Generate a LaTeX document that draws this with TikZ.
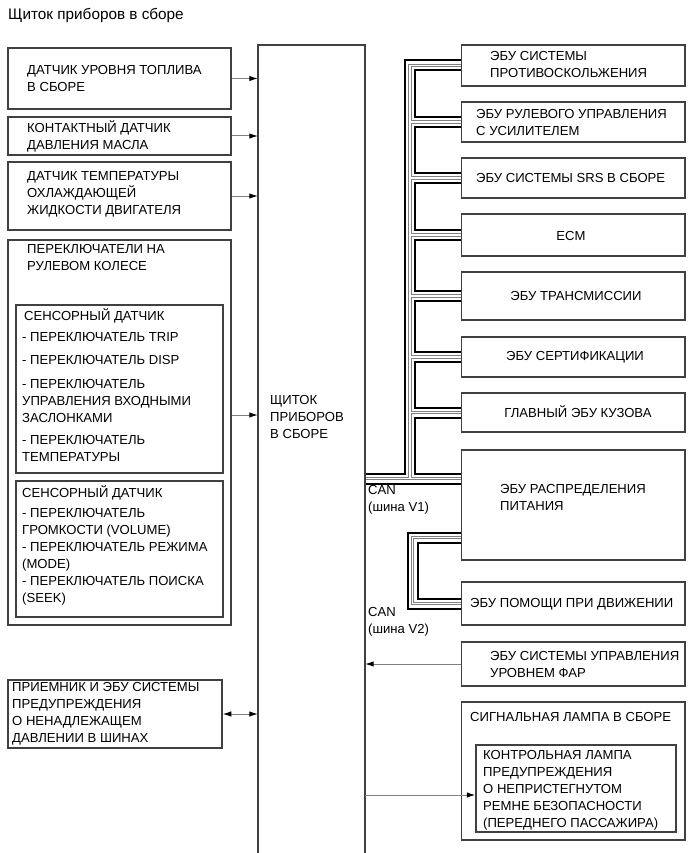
\documentclass[tikz,border=0pt]{standalone}
\usepackage{fontspec}
\setmainfont{Liberation Sans}
\usetikzlibrary{arrows.meta,fit,backgrounds}
\begin{document}
\begin{tikzpicture}[x=1pt,y=-1pt,
  box/.style={draw=black!75, line width=1.5pt, inner sep=0pt},
  frame/.style={inner sep=0pt},
  txt/.style={inner sep=0pt, align=left, font=\fontsize{13.1}{17}\selectfont, text=black},
  ctxt/.style={inner sep=0pt, align=center, font=\fontsize{13.1}{17}\selectfont, text=black},
  arr/.style={draw=black!50, line width=1pt, -{Latex[length=8.5pt,width=5.5pt,color=black]}},
  darr/.style={draw=black!50, line width=1pt, {Latex[length=8.5pt,width=5.5pt,color=black]}-{Latex[length=8.5pt,width=5.5pt,color=black]}},
  band/.style={draw=black, line width=2pt, double=white, double distance=8pt},
  wire/.style={draw=black!50, line width=0.7pt, double=white, double distance=1.9pt},
]
\useasboundingbox (0,0) rectangle (690,853);

% title
\node[inner sep=0pt, anchor=west, font=\fontsize{15.3}{17}\selectfont] (title) at (8,15) {Щиток приборов в сборе};

% main cluster
\node[frame, fit={(258,45) (365,853)}] (main) {};
\draw[draw=black!75, line width=1.5pt] (main.south west) -- (main.north west) -- (main.north east) -- (main.south east);
\node[txt, anchor=west] (maint) at (270,417) {ЩИТОК\\ПРИБОРОВ\\В СБОРЕ};

% left boxes
\node[box, fit={(8,48) (231,109)}] (l1) {};
\node[txt, anchor=west] (l1t) at (27,78.5) {ДАТЧИК УРОВНЯ ТОПЛИВА\\В СБОРЕ};
\node[box, fit={(8,117) (231,155)}] (l2) {};
\node[txt, anchor=west] (l2t) at (27,136.5) {КОНТАКТНЫЙ ДАТЧИК\\ДАВЛЕНИЯ МАСЛА};
\node[box, fit={(8,162) (231,230)}] (l3) {};
\node[txt, anchor=west] (l3t) at (27,194.5) {ДАТЧИК ТЕМПЕРАТУРЫ\\ОХЛАЖДАЮЩЕЙ\\ЖИДКОСТИ ДВИГАТЕЛЯ};
\node[box, fit={(8,240) (231,625)}] (l4) {};
\node[txt, anchor=west] (l4t) at (27,257) {ПЕРЕКЛЮЧАТЕЛИ НА\\РУЛЕВОМ КОЛЕСЕ};
\node[box, fit={(16,305) (223,473)}] (s1) {};
\node[txt, anchor=west] (s1a) at (24,316) {СЕНСОРНЫЙ ДАТЧИК};
\node[txt, anchor=west] (s1b) at (22,337) {- ПЕРЕКЛЮЧАТЕЛЬ TRIP};
\node[txt, anchor=west] (s1c) at (22,360) {- ПЕРЕКЛЮЧАТЕЛЬ DISP};
\node[txt, anchor=west] (s1d) at (22,401) {- ПЕРЕКЛЮЧАТЕЛЬ\\УПРАВЛЕНИЯ ВХОДНЫМИ\\ЗАСЛОНКАМИ};
\node[txt, anchor=west] (s1e) at (22,448.5) {- ПЕРЕКЛЮЧАТЕЛЬ\\ТЕМПЕРАТУРЫ};
\node[box, fit={(16,481) (223,617)}] (s2) {};
\node[txt, anchor=west] (s2a) at (22,493) {СЕНСОРНЫЙ ДАТЧИК};
\node[txt, anchor=west] (s2b) at (22,522.5) {- ПЕРЕКЛЮЧАТЕЛЬ\\ГРОМКОСТИ (VOLUME)};
\node[txt, anchor=west] (s2c) at (22,556.5) {- ПЕРЕКЛЮЧАТЕЛЬ РЕЖИМА\\(MODE)};
\node[txt, anchor=west] (s2d) at (22,590.5) {- ПЕРЕКЛЮЧАТЕЛЬ ПОИСКА\\(SEEK)};
\node[box, fit={(8,680) (222,748)}] (l5) {};
\node[txt, anchor=west] (l5t) at (12,714) {ПРИЕМНИК И ЭБУ СИСТЕМЫ\\ПРЕДУПРЕЖДЕНИЯ\\О НЕНАДЛЕЖАЩЕМ\\ДАВЛЕНИИ В ШИНАХ};

% right boxes
\node[box, fit={(461.5,45) (685,86)}] (r1) {};
\node[txt, anchor=west] (r1t) at (490,64.5) {ЭБУ СИСТЕМЫ\\ПРОТИВОСКОЛЬЖЕНИЯ};
\node[box, fit={(461.5,102) (685,142)}] (r2) {};
\node[txt, anchor=west] (r2t) at (476,122.5) {ЭБУ РУЛЕВОГО УПРАВЛЕНИЯ\\С УСИЛИТЕЛЕМ};
\node[box, fit={(461.5,158) (685,198)}] (r3) {};
\node[txt, anchor=west] (r3t) at (476,178) {ЭБУ СИСТЕМЫ SRS В СБОРЕ};
\node[box, fit={(461.5,214) (685,256)}] (r4) {};
\node[ctxt] (r4t) at (571,236) {ECM};
\node[box, fit={(461.5,272) (685,320)}] (r5) {};
\node[ctxt] (r5t) at (576,296) {ЭБУ ТРАНСМИССИИ};
\node[box, fit={(461.5,337) (685,377)}] (r6) {};
\node[ctxt] (r6t) at (575,357) {ЭБУ СЕРТИФИКАЦИИ};
\node[box, fit={(461.5,393) (685,432)}] (r7) {};
\node[ctxt] (r7t) at (578,412) {ГЛАВНЫЙ ЭБУ КУЗОВА};
\node[box, fit={(461.5,450) (685,560)}] (r8) {};
\node[txt, anchor=west] (r8t) at (500,497.5) {ЭБУ РАСПРЕДЕЛЕНИЯ\\ПИТАНИЯ};
\node[box, fit={(461.5,582) (685,625)}] (r9) {};
\node[txt, anchor=west] (r9t) at (470,604) {ЭБУ ПОМОЩИ ПРИ ДВИЖЕНИИ};
\node[box, fit={(461.5,642) (685,686)}] (r10) {};
\node[txt, anchor=west] (r10t) at (490,664) {ЭБУ СИСТЕМЫ УПРАВЛЕНИЯ\\УРОВНЕМ ФАР};
\node[box, fit={(461.5,702) (685,840)}] (r11) {};
\node[txt, anchor=west] (r11t) at (470,717) {СИГНАЛЬНАЯ ЛАМПА В СБОРЕ};
\node[box, fit={(476,745) (676,832)}] (lamp) {};
\node[txt, anchor=west] (lampt) at (483,790) {КОНТРОЛЬНАЯ ЛАМПА\\ПРЕДУПРЕЖДЕНИЯ\\О НЕПРИСТЕГНУТОМ\\РЕМНЕ БЕЗОПАСНОСТИ\\(ПЕРЕДНЕГО ПАССАЖИРА)};

% CAN labels
\node[txt, anchor=west] (can1) at (368,500) {CAN\\(шина V1)};
\node[txt, anchor=west] (can2) at (368,621.5) {CAN\\(шина V2)};

% bus coordinates
\coordinate (tk) at (410,478.5);
\coordinate (v2t) at (412.5,537.5);

\begin{scope}[on background layer]
\foreach \st in {band,wire}{
\draw[\st] (r1.west) -| (tk) -- (main.east |- tk)
  (tk) -- (r8.west |- tk)
  (r2.west) -- (r2.west -| tk)
  (r3.west) -- (r3.west -| tk)
  (r4.west) -- (r4.west -| tk)
  (r5.west) -- (r5.west -| tk)
  (r6.west) -- (r6.west -| tk)
  (r7.west) -- (r7.west -| tk);
\draw[\st] (r8.west |- v2t) -- (v2t) -- (v2t |- r9.west) -- (r9.west);
}
\end{scope}

% arrows
\draw[arr] (l1.east) -- (l1.east -| main.west);
\draw[arr] (l2.east) -- (l2.east -| main.west);
\draw[arr] (l3.east) -- (l3.east -| main.west);
\coordinate (a4) at (0,415);
\draw[arr] (l4.east |- a4) -- (main.west |- a4);
\draw[darr] (l5.east) -- (l5.east -| main.west);
\draw[arr] (r10.west) -- (r10.west -| main.east);
\coordinate (a11) at (0,795);
\draw[arr] (main.east |- a11) -- (lamp.west |- a11);
\end{tikzpicture}
\end{document}
